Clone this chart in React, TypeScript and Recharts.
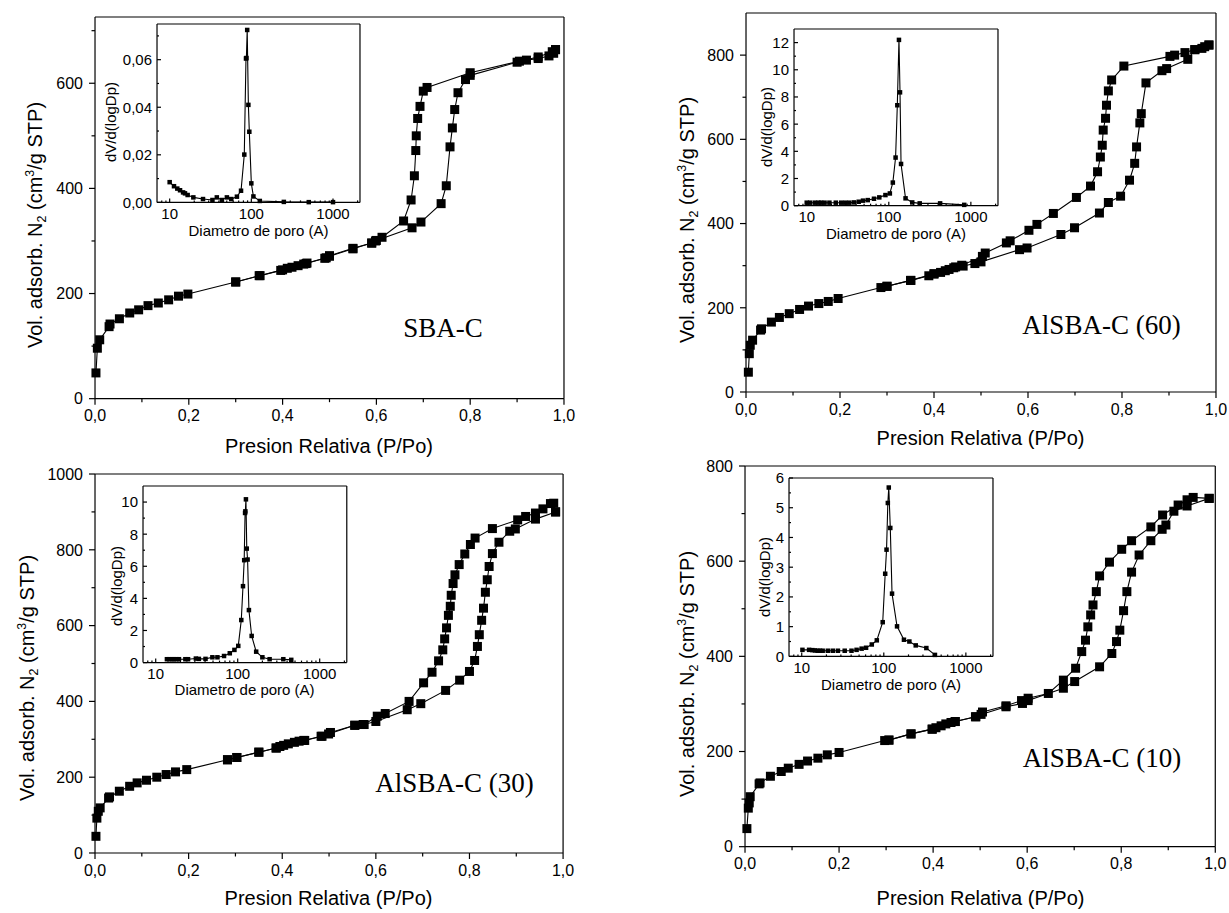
import React from "react";
import { LineChart, Line, XAxis, YAxis } from "recharts";

const SANS = "'Liberation Sans', Arial, Helvetica, sans-serif";
const SERIF = "'Liberation Serif', 'Times New Roman', serif";

// relative pressure axis, shared by the four isotherms
const pTicks = [0, 0.2, 0.4, 0.6, 0.8, 1];
const pMinor = [0.1, 0.3, 0.5, 0.7, 0.9];

// pore diameter axis of the insets (log scale)
const dTicks = [10, 100, 1000];
const dMinor = [8, 9, 20, 30, 40, 50, 60, 70, 80, 90, 200, 300, 400, 500, 600, 700, 800, 900, 2000];

// volume axes
const sbaVTicks = [0, 200, 400, 600];
const sbaVMinor = [100, 300, 500, 700];
const al60VTicks = [0, 200, 400, 600, 800];
const al60VMinor = [100, 300, 500, 700];
const al30VTicks = [0, 200, 400, 600, 800, 1000];
const al30VMinor = [100, 300, 500, 700, 900];
const al10VTicks = [0, 200, 400, 600, 800];
const al10VMinor = [100, 300, 500, 700];

// inset dV/dlogD axes
const sbaPsdTicks = [0, 0.02, 0.04, 0.06];
const sbaPsdMinor = [0.01, 0.03, 0.05, 0.07];
const al60PsdTicks = [0, 2, 4, 6, 8, 10, 12];
const al60PsdMinor = [1, 3, 5, 7, 9, 11];
const al30PsdTicks = [0, 2, 4, 6, 8, 10];
const al30PsdMinor = [1, 3, 5, 7, 9];
const al10PsdTicks = [0, 1, 2, 3, 4, 5, 6];
const al10PsdMinor = [0.5, 1.5, 2.5, 3.5, 4.5, 5.5];

// SBA-C isotherm [P/Po, cm3/g STP]
const sbaAds = [
  [0.002, 49], [0.005, 96], [0.01, 112], [0.03, 137], [0.032, 142], [0.052, 152], [0.074, 163],
  [0.093, 169], [0.113, 177], [0.135, 182], [0.157, 188], [0.178, 195], [0.198, 199], [0.3, 222],
  [0.352, 234], [0.396, 244], [0.41, 248], [0.42, 250], [0.433, 253], [0.445, 256], [0.452, 258],
  [0.493, 268], [0.5, 271], [0.55, 285], [0.59, 296], [0.6, 301], [0.676, 325], [0.695, 336],
  [0.738, 371], [0.749, 405], [0.757, 479], [0.762, 515], [0.767, 550], [0.774, 582], [0.79, 607],
  [0.8, 615], [0.9, 640], [0.92, 644], [0.945, 647], [0.968, 652], [0.978, 657], [0.982, 664],
];
const sbaDes = [
  [0.982, 664], [0.975, 660], [0.945, 650], [0.905, 642], [0.8, 620], [0.708, 592], [0.7, 585],
  [0.693, 556], [0.688, 533], [0.685, 500], [0.684, 472], [0.681, 424], [0.674, 378], [0.658, 338],
  [0.612, 307], [0.598, 300], [0.59, 296], [0.55, 286], [0.5, 272], [0.49, 267], [0.45, 257],
  [0.4, 245], [0.35, 234], [0.3, 222],
];
// SBA-C pore size distribution [diameter A, dV/dlogD]
const sbaPsd = [
  [10, 0.0085], [11.3, 0.0068], [12.4, 0.0058], [13.4, 0.0051], [14.6, 0.0042], [15.4, 0.0038],
  [16.6, 0.0031], [19.5, 0.0021], [25.6, 0.0014], [33.4, 0.001], [37.8, 0.0021], [43.6, 0.001],
  [50.2, 0.0021], [56.8, 0.0014], [66.6, 0.0024], [74.8, 0.0049], [82, 0.0201], [86, 0.0605],
  [87, 0.0607], [89, 0.0725], [92, 0.041], [94.5, 0.0297], [100, 0.008], [106, 0.0025],
  [127, 0.0006], [250, 0.0002], [505, 0.0001], [1000, 0.0001],
];

// AlSBA-C (60)
const al60Ads = [
  [0.005, 47], [0.007, 91], [0.009, 111], [0.014, 123], [0.031, 147], [0.033, 150], [0.054, 166],
  [0.071, 177], [0.092, 186], [0.114, 196], [0.133, 204], [0.155, 210], [0.175, 215], [0.196, 222],
  [0.287, 248], [0.3, 251], [0.351, 265], [0.389, 276], [0.4, 280], [0.414, 284], [0.424, 288],
  [0.432, 291], [0.442, 295], [0.462, 299], [0.487, 305], [0.5, 309], [0.582, 338], [0.598, 342],
  [0.67, 374], [0.699, 390], [0.752, 425], [0.771, 450], [0.797, 465], [0.816, 503], [0.827, 543],
  [0.831, 582], [0.838, 639], [0.841, 661], [0.851, 734], [0.885, 763], [0.895, 768], [0.94, 790],
  [0.955, 813], [0.97, 816], [0.976, 820], [0.985, 824],
];
const al60Des = [
  [0.985, 824], [0.955, 813], [0.934, 806], [0.912, 800], [0.902, 797], [0.804, 774], [0.778, 741],
  [0.771, 715], [0.767, 681], [0.765, 650], [0.76, 622], [0.758, 586], [0.754, 558], [0.748, 523],
  [0.733, 489], [0.703, 462], [0.654, 424], [0.619, 398], [0.602, 384], [0.562, 359], [0.554, 354],
  [0.509, 330], [0.503, 322], [0.459, 301], [0.446, 297], [0.4, 281], [0.35, 265], [0.3, 251],
];
const al60Psd = [
  [10, 0.22], [11, 0.22], [12.6, 0.22], [13.9, 0.22], [15, 0.22], [16.5, 0.22], [18.9, 0.22],
  [22.6, 0.22], [26.3, 0.22], [29.5, 0.22], [33, 0.22], [37.6, 0.24], [43, 0.29], [48.5, 0.37],
  [55.4, 0.41], [66, 0.51], [76.6, 0.61], [91, 0.78], [103, 0.9], [112, 1.7], [121, 3.54],
  [127, 7.39], [133, 12.2], [137, 8.34], [141, 3.07], [160, 0.54], [193, 0.24], [238, 0.17],
  [422, 0.17], [830, 0.06],
];

// AlSBA-C (30)
const al30Ads = [
  [0.002, 44], [0.004, 92], [0.007, 110], [0.011, 119], [0.029, 145], [0.031, 148], [0.052, 163],
  [0.074, 176], [0.09, 185], [0.11, 192], [0.132, 200], [0.152, 207], [0.172, 214], [0.196, 220],
  [0.283, 246], [0.303, 252], [0.35, 266], [0.387, 277], [0.395, 281], [0.403, 284], [0.413, 288],
  [0.426, 292], [0.436, 295], [0.446, 297], [0.483, 308], [0.499, 314], [0.555, 337], [0.573, 339],
  [0.6, 347], [0.667, 378], [0.696, 394], [0.749, 429], [0.779, 456], [0.8, 479], [0.811, 508],
  [0.817, 545], [0.821, 576], [0.826, 614], [0.83, 646], [0.834, 688], [0.838, 721], [0.842, 756],
  [0.849, 790], [0.863, 820], [0.886, 849], [0.898, 855], [0.941, 881], [0.984, 900],
];
const al30Des = [
  [0.984, 900], [0.98, 923], [0.973, 922], [0.957, 908], [0.941, 897], [0.92, 888], [0.903, 879],
  [0.849, 856], [0.812, 831], [0.802, 814], [0.79, 789], [0.778, 761], [0.769, 734], [0.765, 711],
  [0.761, 680], [0.759, 651], [0.755, 627], [0.751, 594], [0.747, 565], [0.743, 536], [0.734, 507],
  [0.72, 477], [0.702, 449], [0.671, 400], [0.62, 368], [0.603, 361], [0.575, 339], [0.555, 337],
  [0.503, 318], [0.485, 308], [0.448, 297], [0.387, 277], [0.35, 266], [0.303, 252], [0.283, 246],
];
const al30Psd = [
  [13.7, 0.21], [14.6, 0.21], [15.8, 0.21], [16.6, 0.21], [17.9, 0.21], [19.2, 0.21], [23, 0.21],
  [24.8, 0.21], [30.9, 0.25], [33.6, 0.23], [40.5, 0.23], [49.1, 0.33], [56.6, 0.33], [68.1, 0.41],
  [80.1, 0.58], [91.2, 0.79], [101.6, 1.04], [110.6, 2.65], [116, 4.76], [120, 6.38], [123, 9.32],
  [124, 9.42], [126, 10.17], [129, 7.1], [132, 6.42], [137, 3.27], [148, 1.66], [168, 0.68],
  [200, 0.33], [245, 0.21], [360, 0.21], [450, 0.17],
];

// AlSBA-C (10)
const al10Ads = [
  [0.004, 38], [0.007, 81], [0.009, 92], [0.011, 105], [0.03, 132], [0.032, 134], [0.054, 148],
  [0.077, 158], [0.092, 165], [0.115, 173], [0.133, 180], [0.155, 186], [0.175, 193], [0.2, 198],
  [0.297, 223], [0.306, 224], [0.353, 237], [0.398, 247], [0.406, 250], [0.417, 254], [0.427, 258],
  [0.438, 261], [0.447, 263], [0.491, 273], [0.502, 278], [0.555, 294], [0.59, 301], [0.602, 307],
  [0.677, 333], [0.701, 347], [0.754, 378], [0.78, 406], [0.79, 431], [0.797, 455], [0.805, 496],
  [0.812, 536], [0.822, 577], [0.838, 613], [0.863, 643], [0.887, 667], [0.895, 676], [0.912, 705],
  [0.94, 716], [0.987, 732],
];
const al10Des = [
  [0.987, 732], [0.953, 734], [0.94, 729], [0.921, 718], [0.888, 697], [0.863, 672], [0.822, 643],
  [0.801, 625], [0.775, 598], [0.754, 569], [0.747, 536], [0.74, 508], [0.735, 487], [0.729, 462],
  [0.724, 434], [0.716, 410], [0.703, 375], [0.677, 350], [0.645, 322], [0.602, 312], [0.588, 307],
  [0.555, 296], [0.505, 283], [0.49, 273], [0.447, 263], [0.398, 247], [0.353, 237], [0.306, 224],
];
const al10Psd = [
  [10.2, 0.22], [12.3, 0.22], [13.5, 0.21], [14.5, 0.2], [15.6, 0.19], [16.7, 0.19], [18, 0.19],
  [20.8, 0.19], [23.9, 0.19], [27.6, 0.19], [33.4, 0.19], [40.4, 0.19], [46.6, 0.22], [53.7, 0.26],
  [60.8, 0.29], [71.4, 0.4], [82.2, 0.54], [97, 1.15], [104, 2.78], [108, 3.59], [112, 5.16],
  [115, 5.68], [120, 4.32], [126, 2.11], [145, 1.01], [176, 0.56], [205, 0.5], [245, 0.37],
  [330, 0.28], [420, 0.05],
];

const comma = (digits: number) => (v: number) => v.toFixed(digits).replace(".", ",");
const pts = (a: number[][]) => a.map(([x, y]) => ({ x, y }));

type Rect = { left: number; top: number; right: number; bottom: number };
type Side = "bottom" | "left" | "top" | "right";
type TickSpec = {
  side: Side;
  majors: number[];
  major: number;
  minor: number;
  inward: boolean;
  gap: number;
  size: number;
  fmt?: (v: number) => string;
};

// draws one tick mark (major or minor) plus its label for majors
function AxisTick(props: any) {
  const { x, y, payload, spec } = props as { x: number; y: number; payload: { value: number }; spec: TickSpec };
  const v = payload.value;
  const isMajor = spec.majors.some((m) => Math.abs(m - v) <= Math.abs(m) * 1e-6 + 1e-9);
  const len = isMajor ? spec.major : spec.minor;
  const s = spec.inward ? -1 : 1;
  const st = { stroke: "#000", strokeWidth: 1.2 };
  const txt = { fontSize: spec.size, fontFamily: SANS, fill: "#000" };
  let line: React.ReactNode = null;
  let label: React.ReactNode = null;
  if (spec.side === "bottom") {
    line = <line x1={x} y1={y} x2={x} y2={y + s * len} {...st} />;
    if (isMajor && spec.fmt)
      label = (
        <text x={x} y={y + spec.gap} dy="0.36em" textAnchor="middle" {...txt}>
          {spec.fmt(v)}
        </text>
      );
  } else if (spec.side === "left") {
    line = <line x1={x} y1={y} x2={x - s * len} y2={y} {...st} />;
    if (isMajor && spec.fmt)
      label = (
        <text x={x - spec.gap} y={y} dy="0.36em" textAnchor="end" {...txt}>
          {spec.fmt(v)}
        </text>
      );
  } else if (spec.side === "top") {
    line = <line x1={x} y1={y} x2={x} y2={y - s * len} {...st} />;
  } else {
    line = <line x1={x} y1={y} x2={x + s * len} y2={y} {...st} />;
  }
  return (
    <g>
      {line}
      {label}
    </g>
  );
}

const square = (size: number) => (p: any) => {
  const { cx, cy, index } = p;
  if (typeof cx !== "number" || typeof cy !== "number") return <g key={`d${index}`} />;
  return <rect key={`d${index}`} x={cx - size / 2} y={cy - size / 2} width={size} height={size} fill="#000" />;
};

type AxisDef = {
  domain: [number, number];
  log?: boolean;
  majors: number[];
  minors: number[];
  fmt: (v: number) => string;
};

type PlotProps = {
  rect: Rect;
  pad: { l: number; r: number; t: number; b: number };
  xa: AxisDef;
  ya: AxisDef;
  series: number[][][];
  mark: number;
  font: number;
  outer: boolean; // bottom/left ticks point outward
  xGap: number;
  yGap: number;
  tickLen: [number, number];
};

// axes get a hair of width so recharts still draws them
const THIN = 0.01;

function Plot({ rect, pad, xa, ya, series, mark, font, outer, xGap, yGap, tickLen }: PlotProps) {
  const w = rect.right - rect.left + pad.l + pad.r;
  const h = rect.bottom - rect.top + pad.t + pad.b;
  const xTicks = [...xa.majors, ...xa.minors];
  const yTicks = [...ya.majors, ...ya.minors];
  const axisLine = { stroke: "#000", strokeWidth: 1.2 };
  const [maj, min] = tickLen;
  const common = { tickSize: 0, tickMargin: 0, tickLine: false, axisLine, interval: 0 as const };
  const xProps = { dataKey: "x", type: "number" as const, scale: xa.log ? ("log" as const) : ("linear" as const), domain: xa.domain, ticks: xTicks, height: THIN };
  const yProps = { type: "number" as const, domain: ya.domain, ticks: yTicks, width: THIN };
  return (
    <div style={{ position: "absolute", left: rect.left - pad.l, top: rect.top - pad.t }}>
      <LineChart width={w} height={h} margin={{ top: pad.t, right: pad.r, bottom: pad.b, left: pad.l }}>
        <XAxis
          xAxisId="b"
          {...xProps}
          {...common}
          tick={<AxisTick spec={{ side: "bottom", majors: xa.majors, major: maj, minor: min, inward: !outer, gap: xGap, size: font, fmt: xa.fmt }} />}
        />
        <XAxis
          xAxisId="t"
          orientation="top"
          {...xProps}
          {...common}
          tick={<AxisTick spec={{ side: "top", majors: xa.majors, major: maj * 0.7, minor: min * 0.7, inward: true, gap: 0, size: font }} />}
        />
        <YAxis
          yAxisId="l"
          {...yProps}
          {...common}
          tick={<AxisTick spec={{ side: "left", majors: ya.majors, major: maj, minor: min, inward: !outer, gap: yGap, size: font, fmt: ya.fmt }} />}
        />
        <YAxis
          yAxisId="r"
          orientation="right"
          {...yProps}
          {...common}
          tick={<AxisTick spec={{ side: "right", majors: ya.majors, major: maj * 0.7, minor: min * 0.7, inward: true, gap: 0, size: font }} />}
        />
        {series.map((s, i) => (
          <Line
            key={i}
            xAxisId="b"
            yAxisId="l"
            data={pts(s)}
            dataKey="y"
            type="linear"
            stroke="#000"
            strokeWidth={1.1}
            dot={square(mark)}
            activeDot={false}
            isAnimationActive={false}
          />
        ))}
      </LineChart>
    </div>
  );
}

function Txt({ x, y, size, family = SANS, rotate = false, children }: { x: number; y: number; size: number; family?: string; rotate?: boolean; children: React.ReactNode }) {
  return (
    <div
      style={{
        position: "absolute",
        left: x,
        top: y,
        transform: `translate(-50%, -50%)${rotate ? " rotate(-90deg)" : ""}`,
        fontSize: size,
        fontFamily: family,
        whiteSpace: "nowrap",
        lineHeight: 1,
        color: "#000",
      }}
    >
      {children}
    </div>
  );
}

const VolTitle = () => (
  <>
    Vol. adsorb. N<sub style={{ fontSize: "0.62em", verticalAlign: "-0.3em" }}>2</sub> (cm
    <sup style={{ fontSize: "0.62em", verticalAlign: "0.7em" }}>3</sup>/g STP)
  </>
);

type Panel = {
  name: string;
  plot: Rect;
  yMax: number;
  yTicks: number[];
  yMinor: number[];
  ads: number[][];
  des: number[][];
  yTitle: [number, number];
  xTitle: [number, number];
  label: [number, number];
  inset: {
    plot: Rect;
    yMax: number;
    yTicks: number[];
    yMinor: number[];
    fmt: (v: number) => string;
    data: number[][];
    yTitle: [number, number];
  };
};

const panels: Panel[] = [
  {
    name: "SBA-C",
    plot: { left: 94.5, top: 17.3, right: 563.5, bottom: 399 },
    yMax: 726, yTicks: sbaVTicks, yMinor: sbaVMinor, ads: sbaAds, des: sbaDes,
    yTitle: [36, 225], xTitle: [329, 446], label: [443, 328],
    inset: {
      plot: { left: 157, top: 24.3, right: 360, bottom: 202.7 },
      yMax: 0.075, yTicks: sbaPsdTicks, yMinor: sbaPsdMinor, fmt: comma(2), data: sbaPsd,
      yTitle: [110, 122],
    },
  },
  {
    name: "AlSBA-C (60)",
    plot: { left: 745.5, top: 13, right: 1215.5, bottom: 392 },
    yMax: 900, yTicks: al60VTicks, yMinor: al60VMinor, ads: al60Ads, des: al60Des,
    yTitle: [688, 220], xTitle: [980.5, 438], label: [1101.5, 325],
    inset: {
      plot: { left: 794, top: 29, right: 998, bottom: 205.7 },
      yMax: 13, yTicks: al60PsdTicks, yMinor: al60PsdMinor, fmt: String, data: al60Psd,
      yTitle: [766, 127],
    },
  },
  {
    name: "AlSBA-C (30)",
    plot: { left: 94.5, top: 474.3, right: 562.6, bottom: 853.3 },
    yMax: 1000, yTicks: al30VTicks, yMinor: al30VMinor, ads: al30Ads, des: al30Des,
    yTitle: [28, 678], xTitle: [328.5, 898], label: [454.5, 783],
    inset: {
      plot: { left: 142.7, top: 485.7, right: 346.5, bottom: 662.3 },
      yMax: 11, yTicks: al30PsdTicks, yMinor: al30PsdMinor, fmt: String, data: al30Psd,
      yTitle: [115.5, 586],
    },
  },
  {
    name: "AlSBA-C (10)",
    plot: { left: 745.4, top: 466, right: 1215.7, bottom: 846.7 },
    yMax: 800, yTicks: al10VTicks, yMinor: al10VMinor, ads: al10Ads, des: al10Des,
    yTitle: [688, 674], xTitle: [980.5, 898], label: [1102, 758],
    inset: {
      plot: { left: 789, top: 478.3, right: 993, bottom: 656.7 },
      yMax: 6, yTicks: al10PsdTicks, yMinor: al10PsdMinor, fmt: String, data: al10Psd,
      yTitle: [764, 577],
    },
  },
];

function IsothermPanel({ p }: { p: Panel }) {
  const r = p.plot;
  const ir = p.inset.plot;
  return (
    <>
      <Plot
        rect={r}
        pad={{ l: 70, r: 12, t: 12, b: 32 }}
        xa={{ domain: [0, 1], majors: pTicks, minors: pMinor, fmt: comma(1) }}
        ya={{ domain: [0, p.yMax], majors: p.yTicks, minors: p.yMinor, fmt: String }}
        series={[p.ads, p.des]}
        mark={9}
        font={16}
        outer={true}
        xGap={17}
        yGap={12}
        tickLen={[6, 3.5]}
      />
      <Plot
        rect={ir}
        pad={{ l: 44, r: 6, t: 12, b: 22 }}
        xa={{ domain: [7, 2140], log: true, majors: dTicks, minors: dMinor, fmt: String }}
        ya={{ domain: [0, p.inset.yMax], majors: p.inset.yTicks, minors: p.inset.yMinor, fmt: p.inset.fmt }}
        series={[p.inset.data]}
        mark={4.5}
        font={15}
        outer={false}
        xGap={11}
        yGap={5}
        tickLen={[4, 2]}
      />
      <Txt x={p.yTitle[0]} y={p.yTitle[1]} size={20} rotate>
        <VolTitle />
      </Txt>
      <Txt x={p.xTitle[0]} y={p.xTitle[1]} size={20}>
        Presion Relativa (P/Po)
      </Txt>
      <Txt x={p.label[0]} y={p.label[1]} size={27} family={SERIF}>
        {p.name}
      </Txt>
      <Txt x={p.inset.yTitle[0]} y={p.inset.yTitle[1]} size={15} rotate>
        dV/d(logDp)
      </Txt>
      <Txt x={(ir.left + ir.right) / 2} y={ir.bottom + 27} size={15}>
        Diametro de poro (A)
      </Txt>
    </>
  );
}

export default function App() {
  return (
    <div style={{ position: "absolute", left: 0, top: 0, width: 1229, height: 913, background: "#fff", overflow: "hidden" }}>
      {panels.map((p) => (
        <IsothermPanel key={p.name} p={p} />
      ))}
    </div>
  );
}
